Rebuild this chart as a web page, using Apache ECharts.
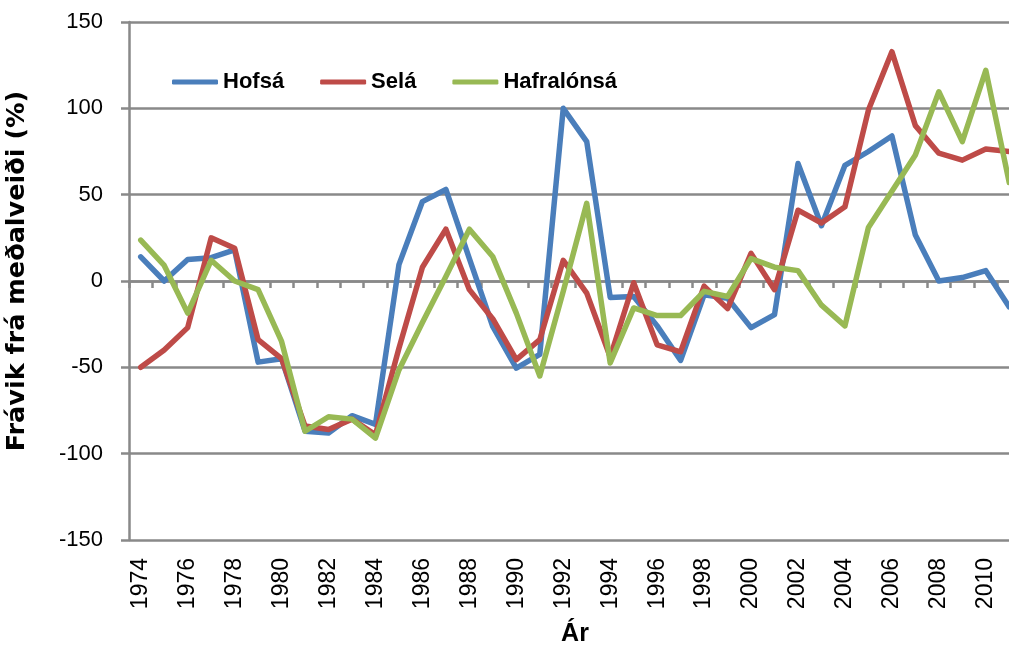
<!DOCTYPE html>
<html>
<head>
<meta charset="utf-8">
<script src="https://cdn.jsdelivr.net/npm/echarts@6/dist/echarts.min.js"></script>
<style>
html,body{margin:0;padding:0;background:#fff;}
#chart{width:1009px;height:652px;}
</style>
</head>
<body>
<div id="chart"></div>
<script>
const years = ['1974','1975','1976','1977','1978','1979','1980','1981','1982','1983','1984','1985','1986','1987','1988','1989','1990','1991','1992','1993','1994','1995','1996','1997','1998','1999','2000','2001','2002','2003','2004','2005','2006','2007','2008','2009','2010','2011'];
const hofsa = [14, 0, 12.5, 13.5, 18, -47, -45, -87, -88, -78, -83, 9.5, 46, 53, 13, -26.5, -50.5, -42.5, 100, 80.7, -9.5, -9, -26, -46, -8, -10, -27, -19.5, 68, 32, 67, 75, 84, 26.6, 0, 2, 6, -15];
const sela = [-50, -40, -27, 25, 19, -34, -45, -84, -86, -80, -89, -39, 8, 30, -5, -22, -45.5, -34, 12, -7, -44, -1, -37, -41, -3, -16, 16, -5, 41, 33.6, 43, 99, 132.8, 90, 74, 70, 76.4, 75];
const hafralonsa = [23.7, 9, -18.6, 12, 0, -5, -35, -87, -78.6, -80, -91, -51.5, -24, 2.6, 30, 14, -18.6, -55, -6, 45, -47.5, -15.6, -20, -20, -6, -9, 13, 8, 6, -14, -26, 31, 52, 73, 109.6, 80.7, 122, 57];
const seriesNames = ['Hofsá', 'Selá', 'Hafralónsá'];
const colors = ['#4A7EBB', '#BE4B48', '#98B954'];

const gridColor = '#898989';
const font = 'Liberation Sans, Arial, sans-serif';

const chart = echarts.init(document.getElementById('chart'), null, {renderer: 'canvas'});
function lineSeries(name, data, color) {
  return {
    name: name, type: 'line', data: data, xAxisIndex: 0, yAxisIndex: 0,
    symbol: 'none', showSymbol: false, smooth: false, animation: false,
    lineStyle: {width: 5.5, color: color, join: 'round', cap: 'round'},
    itemStyle: {color: color},
    emphasis: {disabled: true}
  };
}
chart.setOption({
  animation: false,
  color: colors,
  grid: {left: 129, right: -12, top: 22, bottom: 112, containLabel: false, outerBoundsMode: 'none'},
  legend: {
    show: true, left: 172, top: 71, padding: 0, icon: 'roundRect', itemWidth: 46, itemHeight: 5, itemGap: 36,
    itemStyle: {borderWidth: 0},
    textStyle: {fontFamily: font, fontSize: 22, fontWeight: 'bold', color: '#000', padding: [2, 0, 0, 0]},
    data: seriesNames
  },
  xAxis: [{
    type: 'category', data: years, boundaryGap: true, position: 'bottom',
    name: 'Ár', nameLocation: 'middle', nameGap: 82,
    nameTextStyle: {fontFamily: font, fontSize: 25, fontWeight: 'bold', color: '#000'},
    axisLine: {show: false, onZero: false},
    axisTick: {show: false},
    splitLine: {show: false},
    axisLabel: {interval: 1, rotate: 90, fontFamily: font, fontSize: 23, color: '#000', margin: 18}
  }, {
    type: 'category', data: years, boundaryGap: true, position: 'top',
    axisLine: {show: true, onZero: true, lineStyle: {color: gridColor, width: 2.5}},
    axisTick: {show: true, inside: true, interval: 0, length: 7, lineStyle: {color: gridColor, width: 2.5}},
    axisLabel: {show: false},
    splitLine: {show: false}
  }],
  yAxis: {
    type: 'value', min: -150, max: 150, interval: 50,
    name: 'Frávik frá meðalveiði (%)', nameLocation: 'middle', nameGap: 99,
    nameTextStyle: {fontFamily: 'DejaVu Sans, sans-serif', fontSize: 25.5, fontWeight: 'bold', color: '#000', padding: [0, 0, 0, 20]},
    axisLine: {show: true, lineStyle: {color: gridColor, width: 2.5}},
    axisTick: {show: true, length: 8, lineStyle: {color: gridColor, width: 2.5}},
    splitLine: {show: true, lineStyle: {color: gridColor, width: 2.5}},
    axisLabel: {fontFamily: font, fontSize: 22, color: '#000', margin: 26}
  },
  series: [
    lineSeries(seriesNames[0], hofsa, colors[0]),
    lineSeries(seriesNames[1], sela, colors[1]),
    lineSeries(seriesNames[2], hafralonsa, colors[2])
  ]
});
</script>
</body>
</html>
